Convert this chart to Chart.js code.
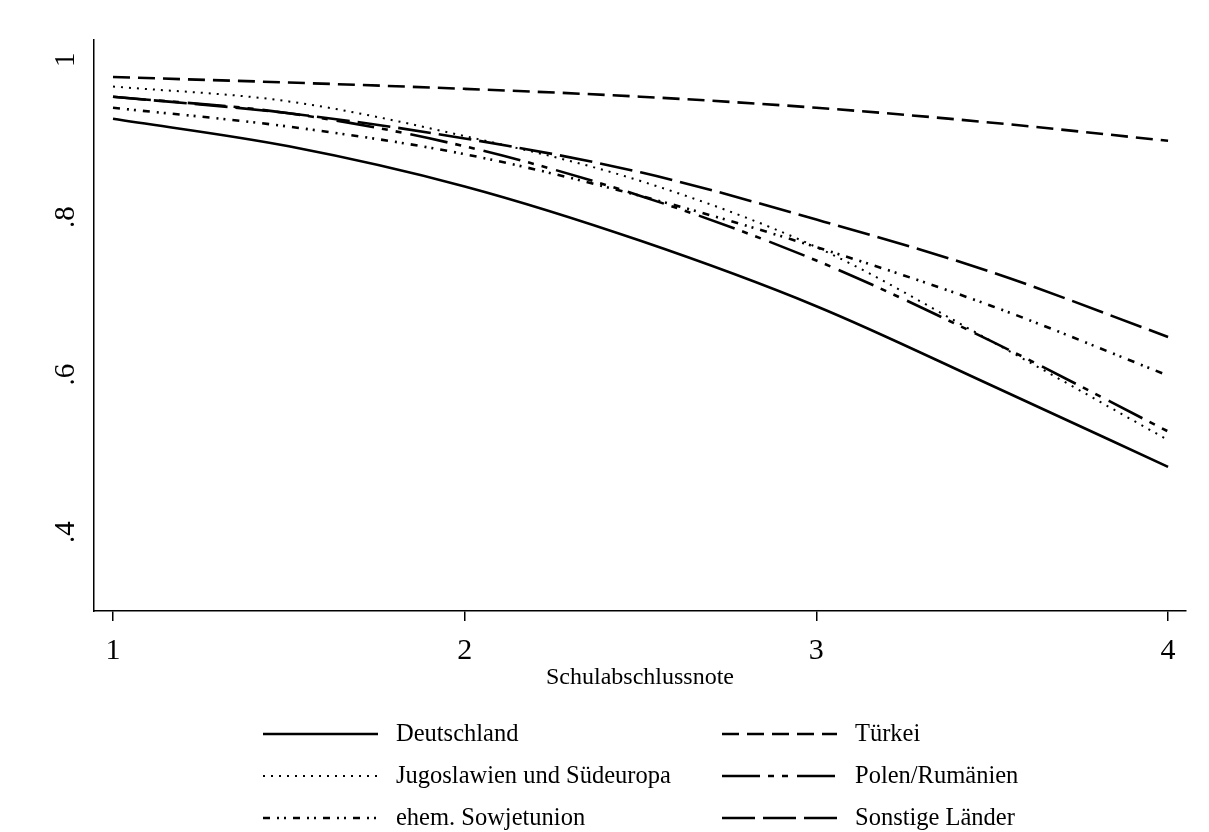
<!DOCTYPE html>
<html>
<head>
<meta charset="utf-8">
<script src="https://cdn.jsdelivr.net/npm/chart.js@4"></script>
<style>
  html, body { margin: 0; padding: 0; background: #fff; }
  #wrap { width: 1209px; height: 832px; position: relative; }
</style>
</head>
<body>
<div id="wrap"><canvas id="c" width="1209" height="832"></canvas></div>
<script>
// ---- Data ----
const xValues = [1, 1.5, 2, 2.5, 3, 3.5, 4];
const seriesNames = ["Deutschland", "Türkei", "Jugoslawien und Südeuropa", "Polen/Rumänien", "ehem. Sowjetunion", "Sonstige Länder"];
const deutschland = [0.925, 0.890, 0.839, 0.770, 0.687, 0.586, 0.483];
const tuerkei     = [0.978, 0.971, 0.963, 0.953, 0.939, 0.920, 0.897];
const jugoslawien = [0.966, 0.947, 0.903, 0.846, 0.762, 0.642, 0.517];
const polen       = [0.953, 0.932, 0.890, 0.827, 0.745, 0.642, 0.528];
const sowjetunion = [0.939, 0.915, 0.880, 0.827, 0.762, 0.687, 0.599];
const sonstige    = [0.953, 0.932, 0.900, 0.857, 0.797, 0.730, 0.648];
const xTicks = [1, 2, 3, 4];
const yTicks = [0.4, 0.6, 0.8, 1];
const yTickLabels = [".4", ".6", ".8", "1"];
const xTitle = "Schulabschlussnote";

const seriesValues = [deutschland, tuerkei, jugoslawien, polen, sowjetunion, sonstige];
const dashes = [[], [17, 8], [2, 6], [38, 8, 6, 8, 6, 9], [7, 7, 2, 5, 2, 7], [33, 8]];
const widths = [2.6, 2.6, 2.0, 2.6, 2.6, 2.6];

const datasets = seriesNames.map((name, i) => ({
  label: name,
  data: xValues.map((x, j) => ({ x: x, y: seriesValues[i][j] })),
  borderColor: '#000',
  backgroundColor: 'transparent',
  borderWidth: widths[i],
  borderDash: dashes[i],
  borderCapStyle: 'butt',
  pointRadius: 0,
  fill: false,
  cubicInterpolationMode: 'monotone'
}));

const SERIF = '"Liberation Serif", "DejaVu Serif", serif';

const customDraw = {
  id: 'customDraw',
  afterDraw(chart) {
    const ctx = chart.ctx;
    const ys = chart.scales.y;
    ctx.save();
    // rotated y tick labels
    ctx.fillStyle = '#000';
    ctx.font = '29px ' + SERIF;
    ctx.textAlign = 'center';
    ctx.textBaseline = 'middle';
    yTicks.forEach((v, i) => {
      const py = ys.getPixelForValue(v);
      ctx.save();
      ctx.translate(66, py);
      ctx.rotate(-Math.PI / 2);
      ctx.fillText(yTickLabels[i], 0, 0);
      ctx.restore();
    });
    // x title
    ctx.font = '24px ' + SERIF;
    ctx.textAlign = 'center';
    ctx.textBaseline = 'middle';
    ctx.fillText(xTitle, (chart.chartArea.left + chart.chartArea.right) / 2, 678);
    // legend
    const colLine = [263, 722];
    const colText = [396, 855];
    const rowY = [734, 776, 818];
    ctx.font = '24.5px ' + SERIF;
    ctx.textAlign = 'left';
    chart.data.datasets.forEach((ds, i) => {
      const c = i % 2, r = Math.floor(i / 2);
      ctx.save();
      ctx.strokeStyle = ds.borderColor;
      ctx.lineWidth = ds.borderWidth;
      ctx.lineCap = 'butt';
      ctx.setLineDash(ds.borderDash || []);
      ctx.beginPath();
      ctx.moveTo(colLine[c], rowY[r]);
      ctx.lineTo(colLine[c] + 115, rowY[r]);
      ctx.stroke();
      ctx.restore();
      ctx.fillStyle = '#000';
      ctx.fillText(ds.label, colText[c], rowY[r] + 1);
    });
    ctx.restore();
  }
};

new Chart(document.getElementById('c'), {
  type: 'line',
  data: { datasets: datasets },
  options: {
    responsive: false,
    animation: false,
    events: [],
    layout: { padding: { left: 0, top: 40, right: 23, bottom: 0 } },
    plugins: { legend: { display: false }, tooltip: { enabled: false } },
    scales: {
      x: {
        type: 'linear',
        min: 0.946,
        max: 4.051,
        afterBuildTicks(scale) { scale.ticks = xTicks.map(v => ({ value: v })); },
        afterFit(scale) { scale.height = 221; },
        grid: { display: true, drawOnChartArea: false, drawTicks: true, tickLength: 10, color: '#000', lineWidth: 1.5 },
        border: { display: true, color: '#000', width: 1.5 },
        ticks: { color: '#000', font: { family: SERIF, size: 30 }, padding: 12, maxRotation: 0, callback: v => String(v) }
      },
      y: {
        type: 'linear',
        min: 0.3,
        max: 1.025,
        afterFit(scale) { scale.width = 94; },
        grid: { display: false },
        border: { display: true, color: '#000', width: 1.5 },
        ticks: { display: false }
      }
    }
  },
  plugins: [customDraw]
});
</script>
</body>
</html>
